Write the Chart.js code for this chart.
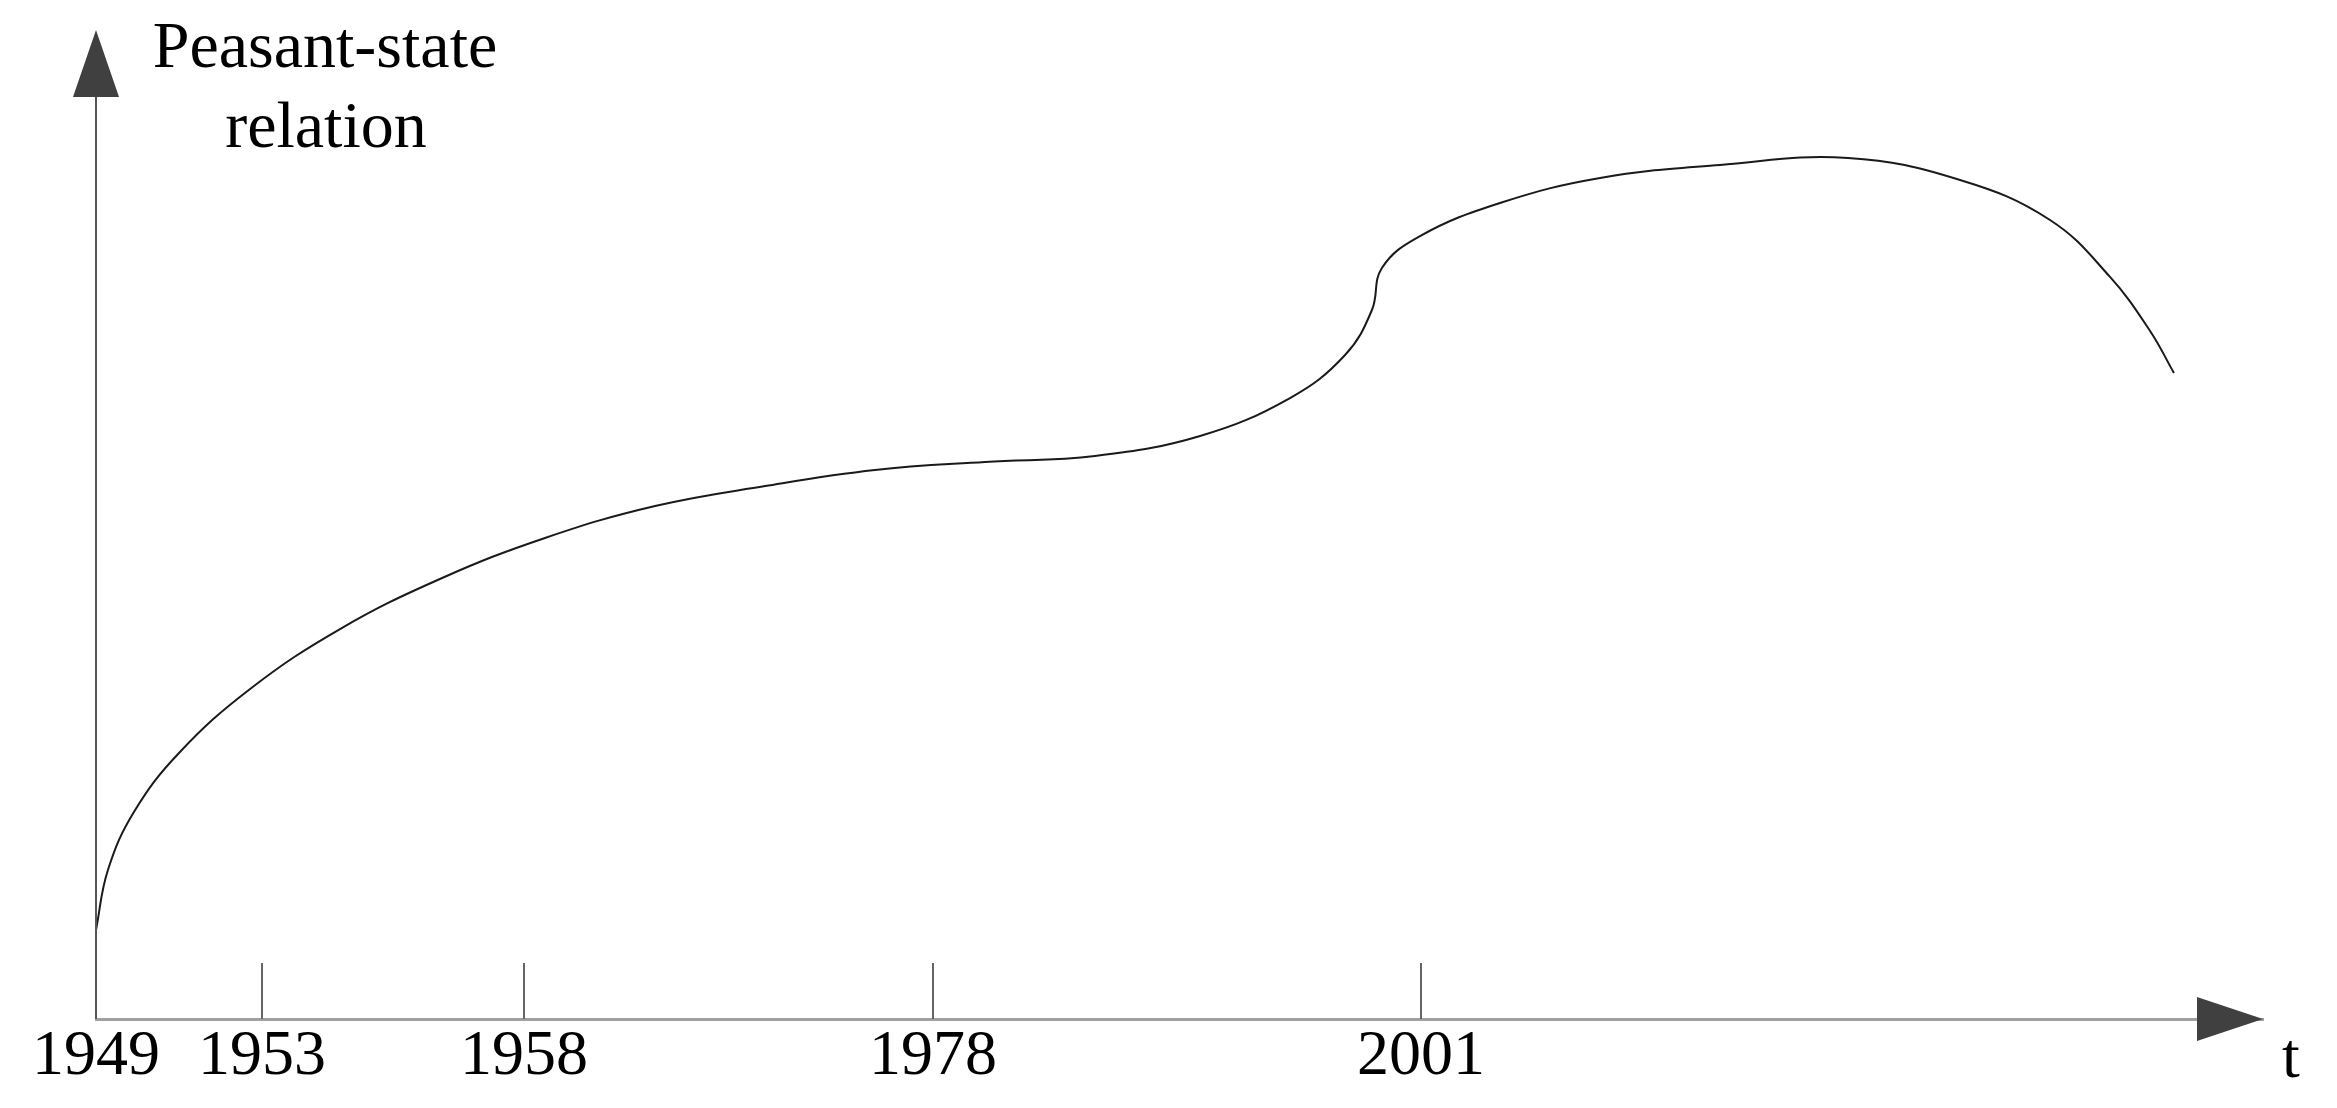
<!DOCTYPE html>
<html>
<head>
<meta charset="utf-8">
<script src="https://cdn.jsdelivr.net/npm/chart.js@4"></script>
<style>
  html, body { margin: 0; padding: 0; background: #fff; }
  canvas { display: block; }
</style>
</head>
<body>
<canvas id="relationChart" width="2337" height="1108"></canvas>
<script>
// 가로축은 추상적인 시간 축 (0 ~ 100), 세로축도 0 ~ 100
var tickPos = [0, 7.66, 19.75, 38.62, 61.14];
var tickLabels = ['1949', '1953', '1958', '1978', '2001'];

var curveX = [0, 0.55, 1.75, 3.83, 7.11, 11.26, 15.87, 20.72, 25.80, 30.88, 35.95, 41.02, 46.10,
              50.95, 55.10, 57.64, 58.88, 59.34, 61.10, 64.79, 69.41, 74.94, 80.85,
              86.02, 90.17, 92.94, 94.79, 95.89];
var curveY = [9.0, 15.07, 20.93, 26.90, 33.37, 39.43, 44.49, 48.64, 51.87, 53.89, 55.51, 56.32, 56.93,
              58.95, 62.79, 67.14, 71.69, 75.94, 79.17, 82.51, 85.04, 86.35, 87.06,
              84.83, 80.79, 75.03, 69.57, 65.32];

var yTitle = ['Peasant-state', 'relation'];
var xTitle = 't';

var points = curveX.map(function (x, i) { return { x: x, y: curveY[i] }; });

// 화살표, 눈금선, 축 제목 그리기
var axisDeco = {
    id: 'axisDeco',
    afterDraw: function (chart) {
        var c = chart.ctx;
        var a = chart.chartArea;
        var xs = chart.scales.x;
        c.save();

        // y축 선
        c.strokeStyle = '#555';
        c.lineWidth = 2;
        c.beginPath();
        c.moveTo(a.left, a.bottom);
        c.lineTo(a.left, a.top + 60);
        c.stroke();

        // 눈금 (위쪽으로)
        c.strokeStyle = '#666';
        c.lineWidth = 2;
        tickPos.forEach(function (v, i) {
            if (i === 0) return;
            var px = Math.round(xs.getPixelForValue(v));
            c.beginPath();
            c.moveTo(px, a.bottom);
            c.lineTo(px, a.bottom - 56);
            c.stroke();
        });

        // 화살표
        c.fillStyle = '#404040';
        c.beginPath();
        c.moveTo(a.left, a.top);
        c.lineTo(a.left - 23, a.top + 67);
        c.lineTo(a.left + 23, a.top + 67);
        c.closePath();
        c.fill();

        c.beginPath();
        c.moveTo(a.right, a.bottom);
        c.lineTo(a.right - 66, a.bottom - 22);
        c.lineTo(a.right - 66, a.bottom + 22);
        c.closePath();
        c.fill();

        // 축 제목
        c.fillStyle = '#000';
        c.font = '66px "Liberation Serif", "Times New Roman", serif';
        c.textAlign = 'center';
        c.textBaseline = 'alphabetic';
        c.fillText(yTitle[0], 325, 67);
        c.fillText(yTitle[1], 326, 147);

        c.font = '64px "Liberation Serif", "Times New Roman", serif';
        c.textAlign = 'left';
        c.fillText(xTitle, 2282, 1077);
        c.restore();
    }
};

var ctx = document.getElementById('relationChart').getContext('2d');

var relationChart = new Chart(ctx, {
    type: 'line',
    data: {
        datasets: [{
            data: points,
            borderColor: '#1a1a1a',
            borderWidth: 2,
            pointRadius: 0,
            fill: false,
            tension: 0.4,
            clip: false
        }]
    },
    options: {
        responsive: false,
        animation: false,
        layout: {
            padding: { left: 96, right: 74, top: 30, bottom: 0 }
        },
        plugins: {
            legend: { display: false },
            tooltip: { enabled: false }
        },
        scales: {
            x: {
                type: 'linear',
                min: 0,
                max: 100,
                afterBuildTicks: function (s) {
                    s.ticks = tickPos.map(function (v) { return { value: v }; });
                },
                afterFit: function (s) { s.height = 89; },
                grid: { display: true, drawOnChartArea: false, drawTicks: false },
                border: { display: true, color: '#a0a0a0', width: 3 },
                ticks: {
                    autoSkip: false,
                    maxRotation: 0,
                    padding: 0,
                    color: '#000',
                    font: { family: '"Liberation Serif", "Times New Roman", serif', size: 64 },
                    callback: function (v) {
                        var i = tickPos.indexOf(v);
                        return i >= 0 ? tickLabels[i] : '';
                    }
                }
            },
            y: {
                display: false,
                min: 0,
                max: 100
            }
        }
    },
    plugins: [axisDeco]
});
</script>
</body>
</html>
